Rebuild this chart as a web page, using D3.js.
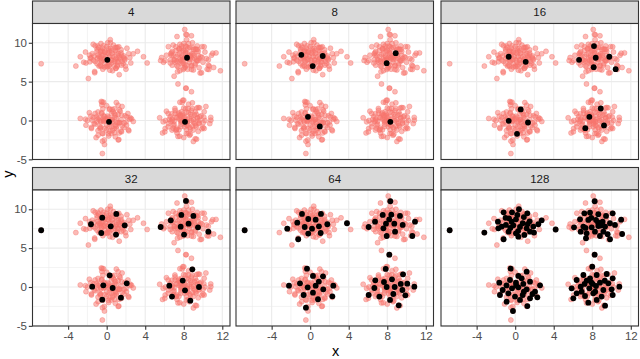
<!DOCTYPE html>
<html>
<head>
<meta charset="utf-8">
<script src="https://cdn.jsdelivr.net/npm/d3@7"></script>
<style>
  body { margin: 0; background: #fff; }
  svg { display: block; }
  text { font-family: "Liberation Sans", Arial, sans-serif; }
</style>
</head>
<body>
<svg id="chart"></svg>
<script>
let width = 640
let height = 359

let panelLabels = ["4", "8", "16", "32", "64", "128"]
let xTicks = [-4, 0, 4, 8, 12]
let xMinor = [-6, -2, 2, 6, 10]
let yTicks = [-5, 0, 5, 10]
let yMinor = [-2.5, 2.5, 7.5]

// the shared cloud (same in every panel)
let cloud = [
  // top left
  [-3.2,7.0],[-2.74,8.2],[-1.9,5.4],[-1.4,9.8],[0.37,10.4],[3.2,8.9],[4.2,7.4],[1.3,5.9],[2.5,7.4],[2.3,8.6],
  [2.0,6.6],[-1.25,6.3],[-2.15,7.4],[-0.6,9.9],[-1.5,8.6],[-1.0,9.2],[-0.5,8.4],[0,9.5],[0.5,9.0],[1.0,8.8],
  [1.5,9.1],[-1.2,7.6],[-0.8,7.0],[-0.2,7.3],[0.3,8.2],[0.8,7.6],[1.4,7.9],[1.8,8.3],[-0.4,6.6],[0.6,6.4],
  [1.1,7.1],[-1.7,8.0],[0.1,10.0],[-0.9,9.6],[1.7,7.3],[2.1,9.3],[-2.2,8.8],[0.7,9.7],[-0.2,8.9],
  [-0.8,8.2],[-0.3,7.8],[0.2,8.6],[0.6,8.3],[1.0,8.0],[-0.6,9.0],[0.4,9.3],[1.2,8.6],[-1.0,7.3],[0.0,7.0],
  [0.5,7.4],[1.5,8.7],[-1.3,8.3],[0.9,9.4],[-0.1,8.2],[0.8,7.0],[-0.7,7.9],[1.6,7.6],[0.3,8.9],[-0.4,9.3],
  // top right
  [8.1,11.7],[7.3,10.8],[8.8,10.9],[9.9,9.5],[11.35,8.7],[11.8,6.4],[10.65,7.0],[10.55,7.8],[9.7,6.1],[7.4,4.7],
  [7.0,5.7],[5.7,8.1],[5.9,7.5],[6.4,9.5],[6.8,8.9],[7.2,8.2],[7.6,9.8],[8.0,9.0],[8.5,9.9],[9.0,8.6],
  [9.5,8.9],[6.6,7.4],[7.3,7.0],[7.9,7.9],[8.6,7.5],[9.2,7.3],[9.9,8.1],[7.6,6.4],[8.4,6.6],[9.0,6.5],
  [6.9,9.7],[10.2,8.8],[8.3,10.4],[7.0,7.8],[8.9,10.0],[6.2,8.4],[9.4,9.6],[8.1,7.2],[10.0,7.5],
  [7.4,8.5],[7.8,8.3],[8.2,8.8],[8.7,8.4],[9.1,8.0],[7.5,9.2],[8.3,9.5],[9.2,9.2],[7.1,7.5],[7.8,7.3],
  [8.4,7.9],[9.5,8.4],[6.9,8.4],[8.0,9.9],[8.8,7.0],[7.6,7.9],[9.4,7.7],[8.1,8.1],[7.2,9.0],[8.9,9.4],
  // bottom left
  [-0.45,-4.25],[-2.74,0.26],[-2.15,-0.6],[-1.1,-2.2],[-0.25,-2.5],[1.2,-2.5],[-0.56,2.45],[-0.5,2.0],[1.0,2.3],[2.76,-0.13],
  [2.45,0.35],[2.25,-1.2],[-1.8,1.0],[-1.4,0.4],[-0.9,1.1],[-0.3,0.6],[0.3,1.4],[0.8,0.9],[1.4,1.2],[1.9,0.6],
  [-1.2,-0.5],[-0.6,-0.2],[0.5,0.1],[1.1,-0.3],[1.6,-0.7],[-0.9,-1.3],[-0.2,-1.0],[0.6,-1.3],[1.3,-1.6],[0.2,-2.0],
  [-1.6,-0.9],[2.0,-0.2],[0.0,1.9],[1.6,1.8],[-2.0,0.0],[0.9,-2.1],[-0.4,-1.7],[2.2,0.9],
  [-0.8,0.4],[-0.3,0.0],[0.2,0.4],[0.6,-0.3],[1.0,0.3],[-0.5,1.0],[0.5,0.9],[1.2,0.8],[-1.0,-0.2],[0.0,-0.6],
  [0.5,-0.8],[1.5,0.1],[-1.2,0.9],[0.8,1.5],[-0.1,0.2],[1.0,-1.0],[-0.6,-0.9],[1.8,-0.3],[0.3,-1.4],[-0.4,1.5],
  // bottom right
  [8.8,3.7],[7.9,2.6],[7.6,2.35],[10.3,1.8],[10.8,0.4],[10.7,-0.4],[9.0,-2.7],[7.4,-2.05],[5.8,-1.6],[5.5,0.35],
  [6.2,1.2],[9.35,1.6],[6.6,0.5],[7.1,1.3],[7.6,0.7],[8.2,1.5],[8.7,0.8],[9.2,1.1],[9.8,0.6],[6.4,-0.4],
  [7.0,-0.1],[7.5,0.2],[8.4,-0.2],[9.0,0.1],[9.6,-0.3],[10.2,0.0],[6.9,-1.0],[7.7,-0.8],[8.3,-1.2],[8.9,-0.7],
  [9.5,-1.4],[7.3,-1.6],[8.0,-2.2],[8.6,-1.9],[6.1,0.0],[8.5,2.1],[10.0,-0.9],[7.8,-0.1],
  [7.3,0.4],[7.7,0.0],[8.1,0.5],[8.6,0.3],[9.0,-0.2],[7.5,1.0],[8.3,1.1],[9.1,0.7],[7.0,-0.5],[7.7,-0.5],
  [8.4,-0.6],[9.4,0.3],[6.8,0.2],[8.0,1.6],[8.7,-1.1],[7.5,-1.2],[9.3,-0.8],[8.1,0.0],[7.1,0.9],[8.8,1.3]
]

// highlighted subsets, one per panel
let sel4 = [[0.07,7.8],[8.34,8.07],[0.24,-0.17],[8.13,-0.17]]

let sel8 = [[-0.92,8.45],[1.3,8.3],[0.26,7.0],[8.88,8.66],[7.94,7.37],[-0.23,0.47],[1.0,-0.77],[8.32,-0.17]]

let sel16 = [
  [-0.67,8.2],[1.09,7.55],[8.18,9.57],[6.63,7.8],[8.36,8.07],[9.77,8.2],[8.15,6.86],[10.43,6.6],
  [0.57,1.42],[-0.67,-0.04],[1.33,-0.26],[0.19,-1.71],[8.88,1.54],[7.7,0.47],[9.22,-0.64],[7.28,-0.99]
]

let sel32 = [
  [-6.8,7.3],[-1.63,8.07],[-0.46,8.92],[1.0,9.4],[0.42,7.8],[-0.56,6.95],[0.97,6.74],[1.87,7.94],
  [5.6,7.72],[6.65,8.58],[7.75,9.27],[8.23,11.07],[9.0,9.14],[7.68,7.76],[8.5,8.15],[9.48,7.68],
  [8.03,6.74],[10.55,7.12],[-1.5,0.04],[-0.35,0.21],[0.31,1.5],[0.62,-0.13],[2.08,0.47],[1.48,-1.37],
  [-0.46,-1.63],[8.89,2.27],[7.89,0.82],[6.5,0.17],[8.13,-0.43],[9.58,0],[6.78,-1.24],[8.68,-1.76]
]

let sel64 = [
  [-6.8,7.3],[-0.85,9.4],[1.12,9.4],[-0.2,8.75],[0.57,8.66],[-1.34,8.28],[1.78,8.07],[-0.57,7.72],
  [0.91,7.8],[0.19,7.5],[-2.38,7.5],[-0.2,6.87],[1.09,6.95],[-1.24,6.14],[3.82,8.2],
  [8.32,11.03],[7.53,9.27],[8.42,9.31],[9.32,9.14],[6.73,8.4],[7.87,8.15],[8.73,8.15],[9.6,7.98],
  [10.88,8.4],[6.07,7.72],[7.6,7.55],[8.81,7.12],[7.94,6.56],[10.6,6.56],[8.21,4.16],[8.2,8.7],
  [-0.33,2.36],[0.29,1.42],[1.33,1.37],[-1.06,0.47],[-2.2,0.17],[-0.26,-0.04],[0.57,0.17],[2.4,0.17],
  [1.36,-0.3],[-0.68,-1.03],[0.29,-0.73],[2.3,-1.2],[0.81,-1.58],[-0.44,-2.66],[0.9,0.7],
  [7.84,2.32],[9.64,1.63],[6.76,0.86],[7.66,0.64],[8.49,0.99],[9.4,0.39],[10.08,0.43],[6.66,-0.13],
  [7.94,0],[8.77,0],[10.81,0.04],[6.07,-1.03],[7.18,-1.24],[8.63,-0.9],[9.57,-0.39],[9.88,-1.07],
  [8.29,-1.67],[9.19,-2.36]
]

let sel128 = [
  [-6.8,7.3],[-3.2,7.0],[4.2,7.4],
  [0.39,10.0],[-1.2,9.61],[-0.33,9.61],[1.26,9.48],[-1.79,8.41],[-0.64,8.84],[0.08,8.71],[0.78,8.2],
  [1.5,8.45],[2.75,8.58],[-1.4,7.77],[-0.19,7.94],[0.5,7.73],[1.19,7.55],[1.88,7.77],[2.4,8.07],
  [-0.68,7.12],[0.08,6.91],[1.54,7.12],[0.95,6.7],[-1.2,6.14],[0.33,6.48],[-1.75,7.55],[-0.37,8.41],
  [0.22,9.27],[-0.96,7.98],[1.95,7.0],[-0.5,7.6],[0.9,9.0],[-1.0,8.9],[0.3,7.2],[1.3,8.1],
  [8.25,11.03],[7.18,9.48],[7.77,9.57],[8.63,9.36],[9.43,9.14],[10.12,9.48],[6.73,8.71],[7.59,8.63],
  [8.39,8.63],[9.08,8.41],[9.84,8.2],[6.11,7.68],[7.08,7.77],[7.94,7.68],[8.63,7.85],[9.33,7.77],
  [10.36,7.98],[7.42,6.91],[8.28,7.12],[9.15,7.12],[7.35,6.27],[9.84,6.14],[11.0,8.66],[11.1,6.82],
  [6.8,7.12],[8.8,6.56],[7.9,8.9],[8.9,7.9],[7.3,7.6],[8.6,8.3],[9.6,6.8],
  [-0.47,2.36],[0.33,1.42],[1.19,1.97],[-1.65,0.56],[-0.54,0.9],[0.08,0.56],[0.84,0.39],[1.54,0.69],
  [2.58,0.21],[-1.3,-0.39],[-0.33,-0.17],[0.33,-0.04],[1.19,-0.3],[2.06,-0.6],[-0.71,-0.82],[-0.02,-1.24],
  [0.78,-1.03],[1.54,-1.46],[-0.89,-1.89],[0.5,-1.67],[1.26,-2.45],[-0.23,-3.09],[-1.58,-1.03],[2.3,-1.33],
  [0.67,1.12],[0.1,0.2],[-0.9,0.2],[0.9,-0.6],[1.8,-0.9],
  [8.25,4.16],[8.0,2.62],[7.08,1.54],[8.46,1.54],[9.5,1.67],[10.12,1.12],[6.38,0.9],[7.42,0.82],
  [8.04,0.39],[8.8,0.56],[9.67,0.47],[10.81,0.04],[5.86,-0.17],[6.8,0.04],[7.7,-0.17],[8.39,0.13],
  [9.15,-0.39],[10.01,-0.3],[6.38,-0.82],[7.25,-1.16],[8.11,-0.82],[8.97,-1.24],[10.12,-1.03],[7.59,-2.02],
  [9.33,-2.4],[6.04,-1.46],[8.46,-1.67],[6.9,-0.6],[7.77,1.12],[7.9,0.6],[8.3,-0.6],[7.2,0.4],[9.3,0.8]
]

let selections = [sel4, sel8, sel16, sel32, sel64, sel128]

// layout
let colLeft = [32.5, 236, 441]
let rowTop = [1, 167.5]
let pw = 197.5
let stripH = 22.5
let ph = 136

let svg = d3.select("#chart")
svg.attr("width", width)
svg.attr("height", height)

let xScale = d3.scaleLinear().domain([-7.7, 12.8]).range([0, pw])
let yScale = d3.scaleLinear().domain([-5.02, 12.48]).range([ph, 0])

// background cloud: base points plus every highlighted point (deduped)
let seen = new Set()
let allPts = []
cloud.concat(...selections).forEach(p => {
  let k = p[0].toFixed(1) + "," + p[1].toFixed(1)
  if (!seen.has(k)) { seen.add(k); allPts.push(p) }
})

let fmt = d => String(d)

let drawPanel = (label, pts, i) => {
  let col = i % 3
  let row = Math.floor(i / 3)
  let g = svg.append("g")
    .attr("transform", "translate(" + colLeft[col] + "," + rowTop[row] + ")")

  // strip
  g.append("rect")
    .attr("width", pw).attr("height", stripH)
    .attr("fill", "#D9D9D9").attr("stroke", "#333333").attr("stroke-width", 1.1)
  g.append("text")
    .attr("x", pw / 2).attr("y", stripH / 2).attr("dy", "0.36em")
    .attr("text-anchor", "middle")
    .attr("font-size", "11.5px").attr("fill", "#1A1A1A")
    .text(label)

  let p = g.append("g").attr("transform", "translate(0," + stripH + ")")
  p.append("rect").attr("width", pw).attr("height", ph).attr("fill", "#fff")

  // grid
  p.selectAll(".xminor").data(xMinor).enter().append("line")
    .attr("x1", d => xScale(d)).attr("x2", d => xScale(d))
    .attr("y1", 0).attr("y2", ph)
    .attr("stroke", "#EBEBEB").attr("stroke-width", 0.6)
  p.selectAll(".yminor").data(yMinor).enter().append("line")
    .attr("y1", d => yScale(d)).attr("y2", d => yScale(d))
    .attr("x1", 0).attr("x2", pw)
    .attr("stroke", "#EBEBEB").attr("stroke-width", 0.6)
  p.selectAll(".xmajor").data(xTicks).enter().append("line")
    .attr("x1", d => xScale(d)).attr("x2", d => xScale(d))
    .attr("y1", 0).attr("y2", ph)
    .attr("stroke", "#EBEBEB").attr("stroke-width", 1.1)
  p.selectAll(".ymajor").data(yTicks).enter().append("line")
    .attr("y1", d => yScale(d)).attr("y2", d => yScale(d))
    .attr("x1", 0).attr("x2", pw)
    .attr("stroke", "#EBEBEB").attr("stroke-width", 1.1)

  // cloud
  p.selectAll(".pt").data(allPts).enter().append("circle")
    .attr("cx", d => xScale(d[0])).attr("cy", d => yScale(d[1]))
    .attr("r", 2.5)
    .attr("fill", "#F8766D").attr("fill-opacity", 0.5)
    .attr("stroke", "#F8766D").attr("stroke-opacity", 0.5).attr("stroke-width", 0.8)

  // highlighted
  p.selectAll(".sel").data(pts).enter().append("circle")
    .attr("cx", d => xScale(d[0])).attr("cy", d => yScale(d[1]))
    .attr("r", 2.9)
    .attr("fill", "#000")

  // border
  p.append("rect").attr("width", pw).attr("height", ph)
    .attr("fill", "none").attr("stroke", "#333333").attr("stroke-width", 1.1)

  if (row == 1) {
    let xAxis = d3.axisBottom(xScale).tickValues(xTicks).tickFormat(fmt).tickSize(3.7).tickPadding(1.8)
    let ax = p.append("g").attr("transform", "translate(0," + ph + ")").call(xAxis)
    ax.select(".domain").remove()
    ax.selectAll("line").attr("stroke", "#333333").attr("stroke-width", 1.1)
    ax.selectAll("text").attr("font-size", "11.5px").attr("fill", "#4D4D4D")
      .attr("font-family", "Liberation Sans, Arial, sans-serif")
  }
  if (col == 0) {
    let yAxis = d3.axisLeft(yScale).tickValues(yTicks).tickFormat(fmt).tickSize(3.7).tickPadding(1.8)
    let ay = p.append("g").call(yAxis)
    ay.select(".domain").remove()
    ay.selectAll("line").attr("stroke", "#333333").attr("stroke-width", 1.1)
    ay.selectAll("text").attr("font-size", "11.5px").attr("fill", "#4D4D4D")
      .attr("font-family", "Liberation Sans, Arial, sans-serif")
  }
}

panelLabels.forEach((lab, i) => drawPanel(lab, selections[i], i))

// axis titles
svg.append("text")
  .attr("x", (colLeft[0] + colLeft[2] + pw) / 2).attr("y", 351).attr("dy", "0.36em")
  .attr("text-anchor", "middle").attr("font-size", "14.5px").attr("fill", "#000")
  .text("x")
svg.append("text")
  .attr("transform", "translate(8,174) rotate(-90)")
  .attr("dy", "0.36em")
  .attr("text-anchor", "middle").attr("font-size", "14.5px").attr("fill", "#000")
  .text("y")
</script>
</body>
</html>
